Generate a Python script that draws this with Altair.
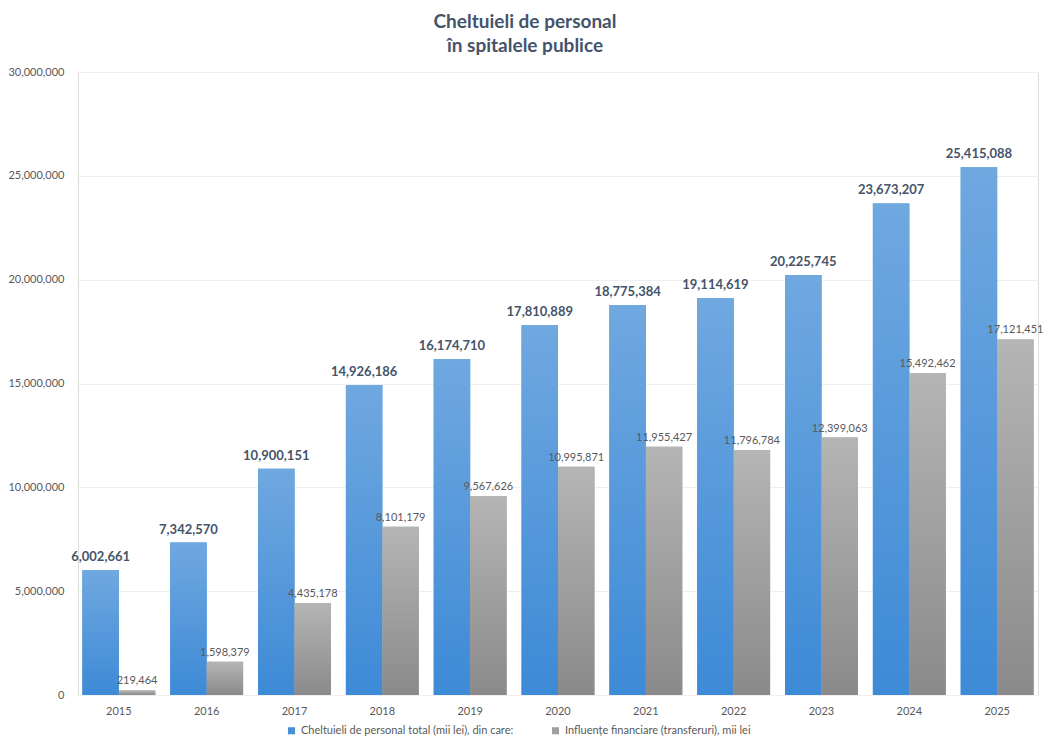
import altair as alt
import pandas as pd

years = ["2015", "2016", "2017", "2018", "2019", "2020", "2021", "2022", "2023", "2024", "2025"]
total = [6002661, 7342570, 10900151, 14926186, 16174710, 17810889, 18775384, 19114619, 20225745, 23673207, 25415088]
transfers = [219464, 1598379, 4435178, 8101179, 9567626, 10995871, 11955427, 11796784, 12399063, 15492462, 17121451]
series_names = ["Cheltuieli de personal total (mii lei), din care:", "Influențe financiare (transferuri), mii lei"]

rows = []
for y, a, b in zip(years, total, transfers):
    rows.append({"an": y, "serie": series_names[0], "valoare": a})
    rows.append({"an": y, "serie": series_names[1], "valoare": b})
df = pd.DataFrame(rows)

FONT = "Lato"

x_enc = alt.X("an:N", sort=years, title=None,
              scale=alt.Scale(paddingInner=0.17, paddingOuter=0.05),
              axis=alt.Axis(labelAngle=0, labelFontSize=11, labelColor="#595959", labelPadding=10,
                            ticks=False, domain=False, labelFont=FONT))
y_enc = alt.Y("valoare:Q", title=None,
              scale=alt.Scale(domain=[0, 30000000], nice=False),
              axis=alt.Axis(values=[0, 5000000, 10000000, 15000000, 20000000, 25000000, 30000000],
                            format=",d", labelFontSize=11, labelColor="#595959", labelPadding=14,
                            ticks=False, domain=False, gridColor="#efefef", labelFont=FONT))
xo = alt.XOffset("serie:N", scale=alt.Scale(domain=series_names))

base = alt.Chart(df)

legend_layer = base.mark_bar().encode(
    x=x_enc, y=y_enc, xOffset=xo,
    color=alt.Color("serie:N",
                    scale=alt.Scale(domain=series_names, range=["#4a90d9", "#a0a0a0"]),
                    legend=alt.Legend(title=None, orient="none", legendX=208, legendY=653,
                                      direction="horizontal",
                                      symbolType="square", symbolSize=50, labelFontSize=11,
                                      labelColor="#595959", labelFont=FONT, columnPadding=36,
                                      labelLimit=0, symbolStrokeWidth=0)),
)

blue_grad = alt.LinearGradient(gradient="linear", x1=0, x2=0, y1=0, y2=1,
                               stops=[alt.GradientStop(color="#70a8e0", offset=0),
                                      alt.GradientStop(color="#3d8ad6", offset=1)])
gray_grad = alt.LinearGradient(gradient="linear", x1=0, x2=0, y1=0, y2=1,
                               stops=[alt.GradientStop(color="#b5b5b5", offset=0),
                                      alt.GradientStop(color="#8a8a8a", offset=1)])

blue_bars = base.transform_filter(alt.datum.serie == series_names[0]).mark_bar(color=blue_grad).encode(
    x=x_enc, y=y_enc, xOffset=xo)
gray_bars = base.transform_filter(alt.datum.serie == series_names[1]).mark_bar(color=gray_grad).encode(
    x=x_enc, y=y_enc, xOffset=xo)

blue_text = base.transform_filter(alt.datum.serie == series_names[0]).mark_text(
    baseline="bottom", dy=-6, fontSize=13, fontWeight="bold", color="#44546a", font=FONT).encode(
    x=x_enc, y=y_enc, xOffset=xo, text=alt.Text("valoare:Q", format=",d"))
gray_text = base.transform_filter(alt.datum.serie == series_names[1]).mark_text(
    baseline="bottom", dy=-4, fontSize=11, color="#595959", font=FONT).encode(
    x=x_enc, y=y_enc, xOffset=xo, text=alt.Text("valoare:Q", format=",d"))

chart = alt.layer(legend_layer, blue_bars, gray_bars, blue_text, gray_text).properties(
    width=960, height=623,
    title=alt.TitleParams(text=["Cheltuieli de personal", "în spitalele publice"],
                          fontSize=19, fontWeight="bold", color="#44546a", font=FONT,
                          anchor="middle", dx=-33, lineHeight=24, offset=10),
    autosize=alt.AutoSizeParams(type="none"),
    padding={"left": 70, "top": 64, "right": 7, "bottom": 45},
).configure_view(strokeWidth=0).configure(background="white")

chart.save("out.html", embed_options={"renderer": "svg", "actions": False})
